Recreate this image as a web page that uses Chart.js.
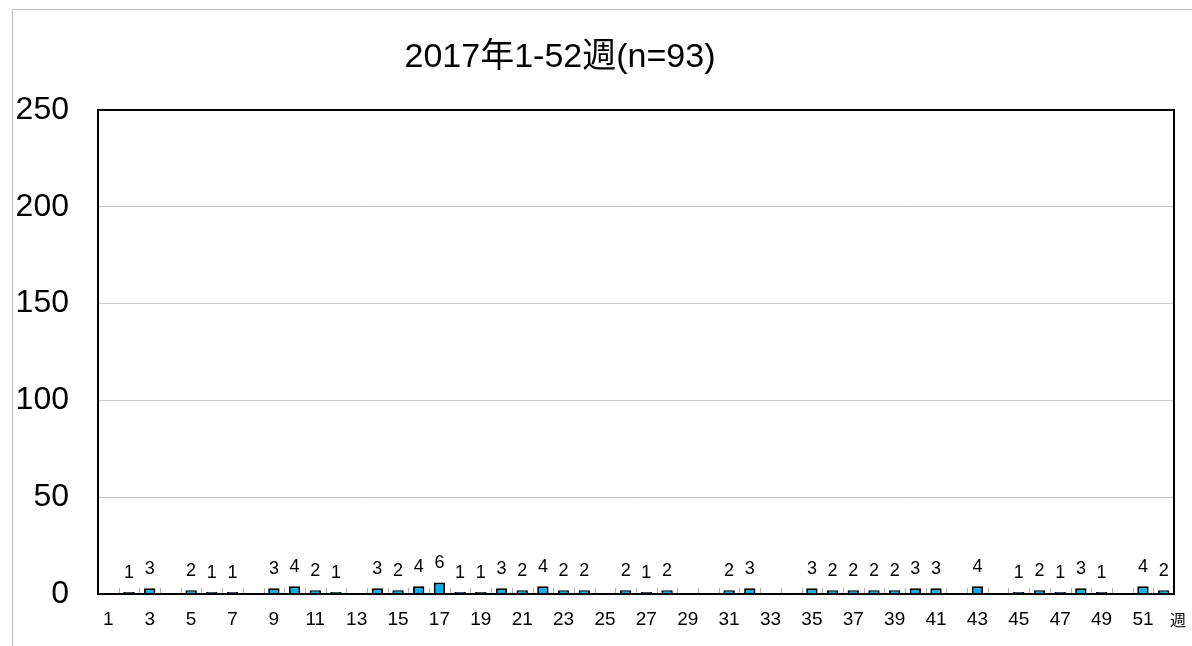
<!DOCTYPE html>
<html>
<head>
<meta charset="utf-8">
<script src="https://cdn.jsdelivr.net/npm/chart.js@4"></script>
<style>
  html, body { margin: 0; padding: 0; background: #fff; }
  #wrap { position: relative; width: 1192px; height: 646px; }
  #frame { position: absolute; left: 12px; top: 9px; right: -2px; bottom: -2px; border: 1px solid #bdbdbd; }
  canvas { position: absolute; left: 0; top: 0; }
</style>
</head>
<body>
<div id="wrap">
  <div id="frame"></div>
  <canvas id="chart" width="1192" height="646"></canvas>
</div>
<script>
document.addEventListener('DOMContentLoaded', () => {
    // 週番号 1-52
    const weeks = [];
    for (let w = 1; w <= 52; w++) weeks.push(String(w));

    // 週ごとの報告数
    const counts = [
        0, 1, 3, 0, 2, 1, 1, 0, 3, 4, 2, 1, 0,
        3, 2, 4, 6, 1, 1, 3, 2, 4, 2, 2, 0, 2,
        1, 2, 0, 0, 2, 3, 0, 0, 3, 2, 2, 2, 2,
        3, 3, 0, 4, 0, 1, 2, 1, 3, 1, 0, 4, 2
    ];

    const titleText = '2017年1-52週(n=93)';
    const yTicks = [0, 50, 100, 150, 200, 250];
    const fontFamily = '"Liberation Sans", "Noto Sans CJK JP", sans-serif';

    // 棒の上に数値を描く（0は表示しない）
    const valueLabels = {
        id: 'valueLabels',
        afterDatasetsDraw(chart) {
            const ctx = chart.ctx;
            const meta = chart.getDatasetMeta(0);
            ctx.save();
            ctx.font = '18px ' + fontFamily;
            ctx.fillStyle = '#000';
            ctx.textAlign = 'center';
            ctx.textBaseline = 'alphabetic';
            meta.data.forEach((bar, i) => {
                const v = counts[i];
                if (!v) return;
                ctx.fillText(String(v), bar.x, bar.y - 14);
            });
            ctx.restore();
        }
    };

    // タイトル・枠線・内向き目盛・「週」ラベル
    const frameAndTicks = {
        id: 'frameAndTicks',
        afterDraw(chart) {
            const ctx = chart.ctx;
            const a = chart.chartArea;
            const x = chart.scales.x;
            ctx.save();
            // x軸の内向き目盛
            ctx.strokeStyle = '#b0b0b0';
            ctx.lineWidth = 1;
            for (let i = 0; i <= weeks.length; i++) {
                let px;
                if (i === 0) px = a.left;
                else if (i === weeks.length) px = a.right;
                else px = (x.getPixelForTick(i - 1) + x.getPixelForTick(i)) / 2;
                ctx.beginPath();
                ctx.moveTo(Math.round(px) + 0.5, a.bottom);
                ctx.lineTo(Math.round(px) + 0.5, a.bottom - 6);
                ctx.stroke();
            }
            // 外枠
            ctx.strokeStyle = '#000';
            ctx.lineWidth = 2;
            ctx.strokeRect(a.left, a.top, a.right - a.left, a.bottom - a.top);
            // タイトル
            ctx.fillStyle = '#000';
            ctx.font = '34px ' + fontFamily;
            ctx.textAlign = 'center';
            ctx.textBaseline = 'alphabetic';
            ctx.fillText(titleText, 560, 67);
            // 「週」
            ctx.font = '16px ' + fontFamily;
            ctx.textAlign = 'left';
            ctx.textBaseline = 'middle';
            ctx.fillText('週', 1170, 622);
            ctx.restore();
        }
    };

    const ctx = document.getElementById('chart').getContext('2d');

    new Chart(ctx, {
        type: 'bar',
        data: {
            labels: weeks,
            datasets: [{
                data: counts,
                backgroundColor: '#00b0f0',
                borderColor: '#000',
                borderWidth: 2,
                borderSkipped: 'bottom',
                barPercentage: 0.55,
                categoryPercentage: 1.0
            }]
        },
        options: {
            responsive: false,
            animation: false,
            layout: {
                padding: { left: 17, right: 18, top: 110, bottom: 0 }
            },
            plugins: {
                legend: { display: false },
                tooltip: { enabled: false },
                title: { display: false }
            },
            scales: {
                x: {
                    afterFit: (scale) => { scale.height = 52; },
                    grid: { display: false, drawTicks: false },
                    border: { display: true, color: '#000', width: 2 },
                    ticks: {
                        color: '#000',
                        font: { size: 19, family: fontFamily },
                        maxRotation: 0,
                        autoSkip: false,
                        padding: 14,
                        callback: function (val, i) {
                            return i % 2 === 0 ? weeks[i] : '';
                        }
                    }
                },
                y: {
                    min: 0,
                    max: 250,
                    afterFit: (scale) => { scale.width = 81; },
                    afterBuildTicks: (scale) => {
                        scale.ticks = yTicks.map(v => ({ value: v }));
                    },
                    grid: {
                        color: (c) => (c.tick && (c.tick.value === 0 || c.tick.value === 250)) ? 'rgba(0,0,0,0)' : '#c8c8c8',
                        lineWidth: 1,
                        drawTicks: false
                    },
                    border: { display: true, color: '#000', width: 2 },
                    ticks: {
                        color: '#000',
                        font: { size: 32, family: fontFamily },
                        padding: 29
                    }
                }
            }
        },
        plugins: [valueLabels, frameAndTicks]
    });
});
</script>
</body>
</html>
